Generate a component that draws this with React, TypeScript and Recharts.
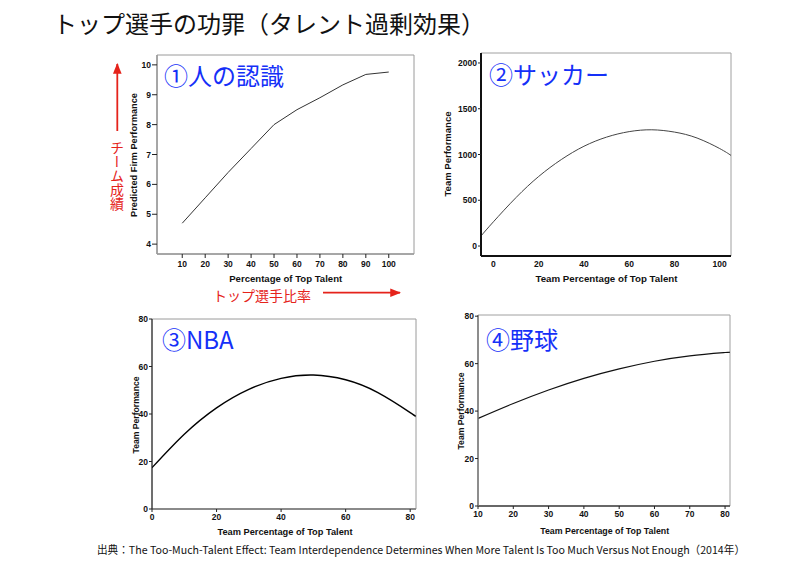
import React from 'react';
import { LineChart, Line, XAxis, YAxis, ReferenceArea } from 'recharts';

// ① 人の認識
const p1Pct = [10, 20, 30, 40, 50, 60, 70, 80, 90, 100];
const p1Perf = [4.7, 5.55, 6.4, 7.2, 8.0, 8.5, 8.9, 9.33, 9.68, 9.76];
const p1XTicks = [10, 20, 30, 40, 50, 60, 70, 80, 90, 100];
const p1YTicks = [4, 5, 6, 7, 8, 9, 10];

// ② サッカー
const p2Pct = [-5.5, 0, 10, 20, 30, 40, 50, 60, 70, 80, 90, 100, 105];
const p2Perf = [110, 265, 530, 760, 945, 1090, 1190, 1250, 1270, 1245, 1180, 1065, 990];
const p2XTicks = [0, 20, 40, 60, 80, 100];
const p2YTicks = [0, 500, 1000, 1500, 2000];

// ③ NBA
const p3Pct = [0, 10, 20, 30, 40, 50, 60, 70, 80, 81.8];
const p3Perf = [17.4, 31.5, 42.6, 50.4, 55.0, 56.4, 54.4, 49.0, 40.6, 38.9];
const p3XTicks = [0, 20, 40, 60, 80];
const p3YTicks = [0, 20, 40, 60, 80];

// ④ 野球
const p4Pct = [10, 20, 30, 40, 50, 60, 70, 80, 81.4];
const p4Perf = [36.9, 43.2, 48.9, 53.8, 57.8, 61.0, 63.3, 64.7, 64.9];
const p4XTicks = [10, 20, 30, 40, 50, 60, 70, 80];
const p4YTicks = [0, 20, 40, 60, 80];

const toRows = (xs: number[], ys: number[]) => xs.map((x, i) => ({ x, y: ys[i] }));

const JP = '"Noto Sans CJK JP", "Noto Sans", sans-serif';
const SANS = '"Liberation Sans", Arial, sans-serif';
const BLUE = '#1530f8';
const RED = '#e5231b';

type PanelProps = {
  left: number; top: number; width: number; height: number;
  margin: { top: number; right: number; bottom: number; left: number };
  yWidth: number; xHeight: number;
  xs: number[]; ys: number[];
  xDomain: [number, number]; yDomain: [number, number];
  xTicks: number[]; yTicks: number[];
  lineType: 'linear' | 'natural';
  lineColor: string; lineWidth: number;
  boxColor: string;
  xAxisColor: string; xAxisWidth: number;
  yAxisColor: string; yAxisWidth: number;
  xTickSize: number; xTickMargin: number; xTickLine: boolean;
  yTickSize: number; yTickMargin: number;
  xFont: number; yFont: number;
  topColor?: string;
};

function Panel(p: PanelProps) {
  const data = toRows(p.xs, p.ys);
  const tickStyle = (fs: number) => ({ fill: '#111', fontSize: fs, fontWeight: 'bold' as const, fontFamily: SANS });
  return (
    <div style={{ position: 'absolute', left: p.left, top: p.top }}>
      <LineChart width={p.width} height={p.height} data={data} margin={p.margin}>
        <ReferenceArea
          x1={p.xDomain[0]} x2={p.xDomain[1]} y1={p.yDomain[0]} y2={p.yDomain[1]}
          fill="none" stroke={p.boxColor} strokeWidth={1} ifOverflow="visible"
        />
        {p.topColor ? (
          <ReferenceArea
            x1={p.xDomain[0]} x2={p.xDomain[1]} y1={p.yDomain[1]} y2={p.yDomain[1]}
            fill="none" stroke={p.topColor} strokeWidth={1} ifOverflow="visible"
          />
        ) : null}
        <XAxis
          dataKey="x" type="number" domain={p.xDomain} ticks={p.xTicks} interval={0}
          allowDataOverflow height={p.xHeight}
          axisLine={{ stroke: p.xAxisColor, strokeWidth: p.xAxisWidth }}
          tickLine={p.xTickLine ? { stroke: '#222' } : false}
          tickSize={p.xTickSize} tickMargin={p.xTickMargin}
          tick={tickStyle(p.xFont)}
        />
        <YAxis
          type="number" domain={p.yDomain} ticks={p.yTicks} interval={0}
          allowDataOverflow width={p.yWidth}
          axisLine={{ stroke: p.yAxisColor, strokeWidth: p.yAxisWidth }}
          tickLine={{ stroke: '#222' }}
          tickSize={p.yTickSize} tickMargin={p.yTickMargin}
          tick={tickStyle(p.yFont)}
        />
        <Line
          dataKey="y" type={p.lineType} stroke={p.lineColor} strokeWidth={p.lineWidth}
          dot={false} activeDot={false} isAnimationActive={false}
        />
      </LineChart>
    </div>
  );
}

function AxisTitle({ x, y, text, len, rotate }: { x: number; y: number; text: string; len: number; rotate?: boolean }) {
  return (
    <text
      x={x} y={y} textAnchor="middle" dominantBaseline="central"
      transform={rotate ? `rotate(-90 ${x} ${y})` : undefined}
      fontFamily={SANS} fontWeight="bold" fontSize={9.5} fill="#111"
      textLength={len} lengthAdjust="spacingAndGlyphs"
    >
      {text}
    </text>
  );
}

export default function App() {
  return (
    <div style={{ position: 'absolute', left: 0, top: 0, width: 800, height: 561, background: '#fff', overflow: 'hidden' }}>
      <Panel
        left={100} top={40} width={330} height={260}
        margin={{ top: 15, right: 16, bottom: 0, left: 0 }}
        yWidth={57} xHeight={46}
        xs={p1Pct} ys={p1Perf} xDomain={[-1, 111]} yDomain={[3.67, 10.33]}
        xTicks={p1XTicks} yTicks={p1YTicks}
        lineType="linear" lineColor="#333" lineWidth={1}
        boxColor="#9a9a9a" xAxisColor="#9a9a9a" xAxisWidth={1.5} yAxisColor="#9a9a9a" yAxisWidth={1.5}
        xTickSize={4} xTickMargin={3} xTickLine={true}
        yTickSize={5} yTickMargin={1}
        xFont={8.5} yFont={8.5}
      />
      <Panel
        left={430} top={40} width={310} height={260}
        margin={{ top: 13, right: 9, bottom: 0, left: 0 }}
        yWidth={51} xHeight={44}
        xs={p2Pct} ys={p2Perf} xDomain={[-5.5, 105]} yDomain={[-109, 2109]}
        xTicks={p2XTicks} yTicks={p2YTicks}
        lineType="natural" lineColor="#444" lineWidth={1}
        boxColor="#a0a0a0" xAxisColor="#111" xAxisWidth={2} yAxisColor="#111" yAxisWidth={2}
        xTickSize={0} xTickMargin={5} xTickLine={false}
        yTickSize={3} yTickMargin={1}
        xFont={8.5} yFont={8.5}
      />
      <Panel
        left={100} top={300} width={330} height={240}
        margin={{ top: 19, right: 14, bottom: 0, left: 0 }}
        yWidth={52} xHeight={31}
        xs={p3Pct} ys={p3Perf} xDomain={[0, 81.8]} yDomain={[0, 80]}
        xTicks={p3XTicks} yTicks={p3YTicks}
        lineType="natural" lineColor="#000" lineWidth={1.4}
        boxColor="#9a9a9a" xAxisColor="#8a8a8a" xAxisWidth={2} yAxisColor="#111" yAxisWidth={1}
        xTickSize={3} xTickMargin={2} xTickLine={true}
        yTickSize={3} yTickMargin={1}
        xFont={8.5} yFont={8.5}
        topColor="#111"
      />
      <Panel
        left={430} top={300} width={310} height={240}
        margin={{ top: 15, right: 10, bottom: 0, left: 0 }}
        yWidth={48} xHeight={34}
        xs={p4Pct} ys={p4Perf} xDomain={[10, 81.4]} yDomain={[0, 80.5]}
        xTicks={p4XTicks} yTicks={p4YTicks}
        lineType="natural" lineColor="#111" lineWidth={1.2}
        boxColor="#a0a0a0" xAxisColor="#444" xAxisWidth={1.5} yAxisColor="#777" yAxisWidth={1.5}
        xTickSize={3} xTickMargin={2} xTickLine={true}
        yTickSize={3} yTickMargin={1}
        xFont={8.5} yFont={8.5}
      />

      <svg width={800} height={561} style={{ position: 'absolute', left: 0, top: 0, pointerEvents: 'none' }}>
        <defs>
          <marker id="ah" viewBox="0 0 10 10" refX="9" refY="5" markerWidth="6" markerHeight="6" orient="auto-start-reverse">
            <path d="M0,1 L10,5 L0,9 z" fill={RED} />
          </marker>
        </defs>
        <text x={53} y={22} dominantBaseline="central" fontFamily={JP} fontSize={24} fill="#111">
          トップ選手の功罪（タレント過剰効果）
        </text>

        <text x={164} y={74} dominantBaseline="central" fontFamily={JP} fontSize={24} fill={BLUE}>①人の認識</text>
        <text x={489} y={73} dominantBaseline="central" fontFamily={JP} fontSize={24} fill={BLUE}>②サッカー</text>
        <text x={162} y={338} dominantBaseline="central" fontFamily={JP} fontSize={24} fill={BLUE}>③NBA</text>
        <text x={486} y={338} dominantBaseline="central" fontFamily={JP} fontSize={24} fill={BLUE}>④野球</text>

        <AxisTitle x={285.7} y={278} text="Percentage of Top Talent" len={113} />
        <AxisTitle x={133} y={155} text="Predicted Firm Performance" len={124} rotate />
        <AxisTitle x={606.5} y={278.5} text="Team Percentage of Top Talent" len={142} />
        <AxisTitle x={447.3} y={154} text="Team Performance" len={85} rotate />
        <AxisTitle x={285} y={531} text="Team Percentage of Top Talent" len={135} />
        <AxisTitle x={135} y={415} text="Team Performance" len={77} rotate />
        <AxisTitle x={604.7} y={530} text="Team Percentage of Top Talent" len={129} />
        <AxisTitle x={460.7} y={411} text="Team Performance" len={77} rotate />

        <line x1={117.3} y1={131} x2={117.3} y2={64} stroke={RED} strokeWidth={1.8} markerEnd="url(#ah)" />
        <line x1={323} y1={292.7} x2={400} y2={292.7} stroke={RED} strokeWidth={1.8} markerEnd="url(#ah)" />
        <text x={213} y={295} dominantBaseline="central" fontFamily={JP} fontSize={14} fill={RED}>トップ選手比率</text>

        <text x={97} y={549} dominantBaseline="central" fontFamily={JP} fontSize={11} fill="#111"
          textLength={648} lengthAdjust="spacingAndGlyphs">
          出典：The Too-Much-Talent Effect: Team Interdependence Determines When More Talent Is Too Much Versus Not Enough（2014年）
        </text>
      </svg>
      <div style={{
        position: 'absolute', left: 110, top: 141, writingMode: 'vertical-rl', fontFamily: JP,
        fontSize: 14, lineHeight: '14px', color: RED, pointerEvents: 'none'
      }}>
        チーム成績
      </div>
    </div>
  );
}
